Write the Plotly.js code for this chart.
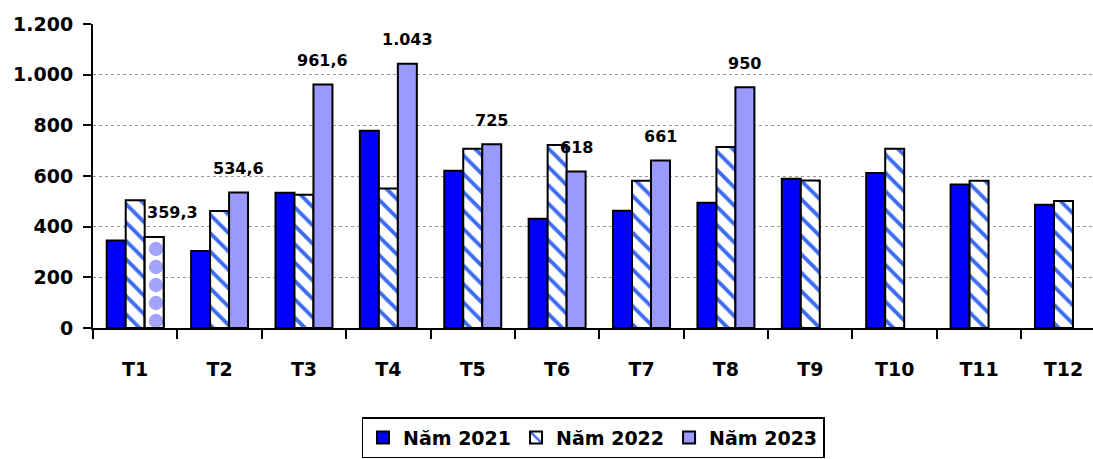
<!DOCTYPE html>
<html>
<head>
<meta charset="utf-8">
<script src="https://cdn.plot.ly/plotly-3.0.1.min.js"></script>
<style>
  html, body { margin: 0; padding: 0; background: #fff; }
  #chart { width: 1093px; height: 459px; }
</style>
</head>
<body>
<div id="chart"></div>
<script>
// Monthly values, three years
const months = ['T1', 'T2', 'T3', 'T4', 'T5', 'T6', 'T7', 'T8', 'T9', 'T10', 'T11', 'T12'];
const seriesNames = ['Năm 2021', 'Năm 2022', 'Năm 2023'];
const values2021 = [345, 304, 534, 779, 621, 431, 463, 494, 589, 612, 566, 487];
const values2022 = [504, 462, 526, 551, 708, 722, 581, 714, 582, 708, 581, 501];
const values2023 = [359.3, 534.6, 961.6, 1043, 725, 618, 661, 950, null, null, null, null];

const FONT = 'DejaVu Sans, Arial, sans-serif';
const edge = { color: '#000000', width: 2 };

// Vietnamese number style: "." for thousands, "," for decimals
function fmtVN(v) {
  const parts = String(v).split('.');
  parts[0] = parts[0].replace(/\B(?=(\d{3})+(?!\d))/g, '.');
  return parts.join(',');
}

const traces = [
  {
    type: 'bar', name: seriesNames[0], x: months, y: values2021,
    offsetgroup: 'a',
    marker: { color: '#0000ff', line: edge }
  },
  {
    type: 'bar', name: seriesNames[1], x: months, y: values2022,
    offsetgroup: 'b',
    marker: {
      color: '#ffffff', line: edge,
      pattern: { shape: '\\', fgcolor: '#3d6cf2', bgcolor: '#ffffff', size: 13, solidity: 0.3 }
    }
  },
  {
    type: 'bar', name: seriesNames[2], x: months, y: values2023,
    offsetgroup: 'c',
    marker: { color: '#9999ff', line: edge }
  },
  // January 2023 bar drawn with its own dotted fill on top of the plain one
  {
    type: 'bar', name: seriesNames[2], x: [months[0]], y: [values2023[0]],
    offsetgroup: 'c', showlegend: false, hoverinfo: 'skip',
    marker: {
      color: '#ffffff', line: edge,
      pattern: { shape: '.', fgcolor: '#a4a4ff', bgcolor: '#ffffff', size: 18, solidity: 0.5 }
    }
  }
];

// Value labels over the 2023 bars (the first one sits a little to the right)
const annotations = [];
values2023.forEach((v, i) => {
  if (v === null) return;
  annotations.push({
    x: months[i], y: v, xref: 'x', yref: 'y',
    xshift: i === 0 ? 37 : 19, yshift: 24, showarrow: false,
    text: fmtVN(v),
    font: { family: FONT, size: 16, color: '#000', weight: 'bold' }
  });
});

const layout = {
  width: 1093, height: 459,
  margin: { l: 93, r: 0, t: 24, b: 131 },
  paper_bgcolor: '#ffffff', plot_bgcolor: '#ffffff',
  barmode: 'group', bargap: 0.325, bargroupgap: 0,
  separators: ',.',
  font: { family: FONT, size: 19, color: '#000', weight: 'bold' },
  showlegend: true,
  legend: {
    orientation: 'h', x: 0.5, xanchor: 'center', y: -0.293, yanchor: 'top',
    bordercolor: '#000', borderwidth: 1.5, bgcolor: '#fff',
    font: { family: FONT, size: 19, color: '#000', weight: 'bold' },
    traceorder: 'normal'
  },
  xaxis: {
    type: 'category', range: [-0.5, 11.35],
    showline: true, linecolor: '#000', linewidth: 2,
    ticks: 'outside', tickson: 'boundaries', ticklen: 9, tickwidth: 2, tickcolor: '#000',
    showgrid: false, zeroline: false,
    ticklabelstandoff: 23,
    tickfont: { family: FONT, size: 19, color: '#000', weight: 'bold' }
  },
  yaxis: {
    range: [0, 1200], tickvals: [0, 200, 400, 600, 800, 1000, 1200],
    tickformat: ',d', separatethousands: true,
    showline: true, linecolor: '#000', linewidth: 2,
    ticks: 'outside', ticklen: 8, tickwidth: 2, tickcolor: '#000',
    showgrid: true, gridcolor: '#9a9a9a', gridwidth: 1, griddash: 'dot',
    zeroline: false,
    ticklabelstandoff: 6,
    tickfont: { family: FONT, size: 19, color: '#000', weight: 'bold' }
  },
  annotations: annotations
};

Plotly.newPlot('chart', traces, layout, { staticPlot: true, displayModeBar: false });
</script>
</body>
</html>
